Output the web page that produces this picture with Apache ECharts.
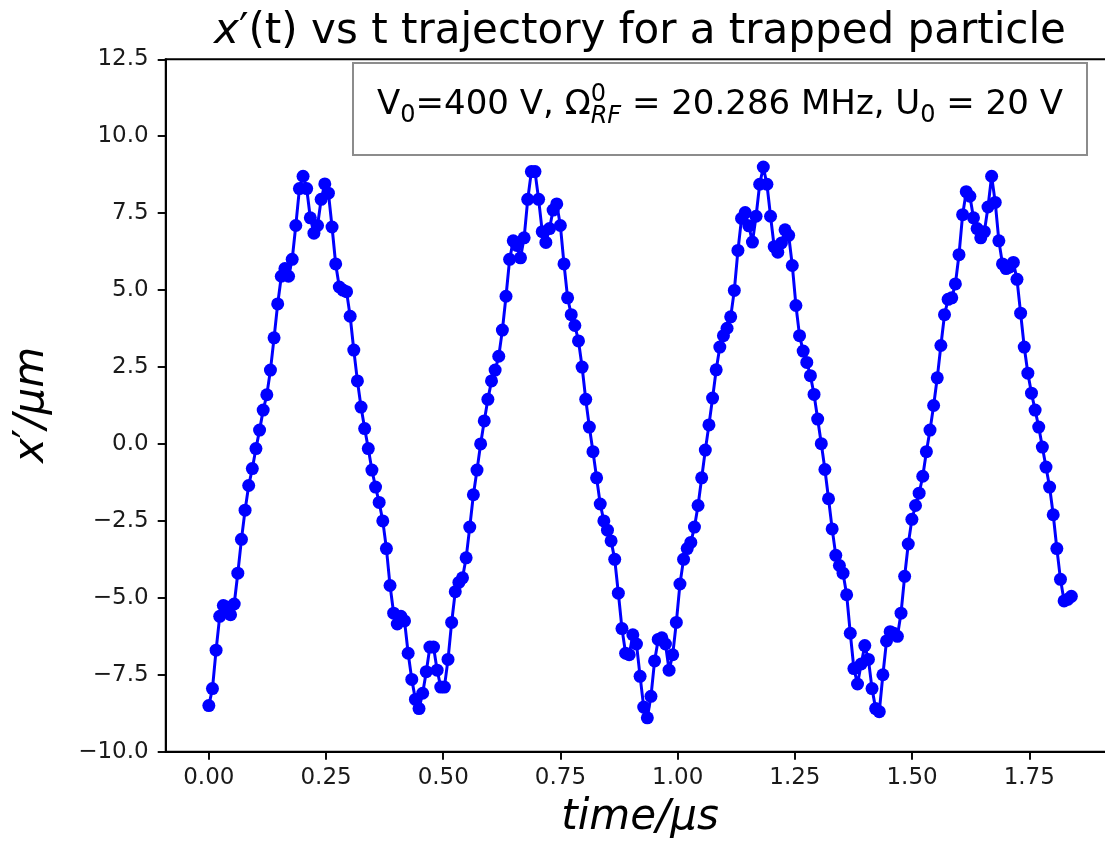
<!DOCTYPE html>
<html>
<head>
<meta charset="utf-8">
<title>x'(t) vs t trajectory for a trapped particle</title>
<script src="https://cdn.jsdelivr.net/npm/echarts@6.0.0/dist/echarts.min.js"></script>
<style>
  html, body { margin: 0; padding: 0; background: #ffffff; }
  #chart { width: 1105px; height: 852px; }
</style>
</head>
<body>
<div id="chart"></div>
<script>
const FONT = '"DejaVu Sans", sans-serif'
const BLUE = '#0000ff'
const INK = '#000000'

// sampling step of the trajectory (us)
const T_STEP = 0.00773

// x'(t) in um, one value per time step
const xPrime = [
  -8.5, -7.95, -6.7, -5.6, -5.25, -5.3, -5.55, -5.2, -4.2, -3.1, -2.15, -1.35, -0.8, -0.15,
  0.45, 1.1, 1.6, 2.4, 3.45, 4.55, 5.45, 5.7, 5.45, 6.0, 7.1, 8.3, 8.7,
  8.3, 7.35, 6.85, 7.1, 7.95, 8.45, 8.15, 7.05, 5.85, 5.1, 5.0, 4.95, 4.15, 3.05, 2.05, 1.2,
  0.5, -0.15, -0.85, -1.4, -1.9, -2.5, -3.4, -4.6,
  -5.5, -5.85, -5.6, -5.75, -6.8, -7.65, -8.3, -8.6, -8.1, -7.4, -6.6, -6.6, -7.35, -7.9, -7.9,
  -7.0, -5.8, -4.8,
  -4.5, -4.35, -3.7, -2.7, -1.65, -0.85, 0.0, 0.75, 1.45, 2.05, 2.4, 2.85, 3.7, 4.8, 6.0, 6.6,
  6.45, 6.05, 6.7, 7.95, 8.85, 8.85, 7.95, 6.9, 6.55, 7.0, 7.6, 7.8, 7.1, 5.85, 4.75, 4.2, 3.85,
  3.35, 2.5, 1.45, 0.55, -0.25, -1.1, -1.95, -2.5, -2.8, -3.15, -3.75, -4.85,
  -6.0, -6.8, -6.85, -6.2, -6.5, -7.55, -8.55, -8.9, -8.2, -7.05, -6.35, -6.3, -6.5, -7.35, -6.85,
  -5.8, -4.55, -3.75, -3.4, -3.2, -2.7, -2.0, -1.1, -0.2, 0.62,
  1.49, 2.41, 3.15, 3.52, 3.76, 4.13, 4.99, 6.29, 7.33, 7.52, 7.09, 6.56, 7.4, 8.44, 9.0, 8.44,
  7.4, 6.41, 6.23, 6.53, 6.96, 6.78, 5.8, 4.5, 3.52, 3.02, 2.65, 2.22, 1.61, 0.81, 0.01, -0.83,
  -1.78, -2.76, -3.62,
  -3.95, -4.2, -4.9, -6.15, -7.3, -7.8, -7.15, -6.55, -7.0, -7.95, -8.6, -8.7,
  -7.5, -6.4, -6.1, -6.15, -6.25, -5.5, -4.3, -3.25, -2.45, -2.0, -1.6, -1.05, -0.25, 0.45, 1.25,
  2.15, 3.2, 4.2, 4.7,
  4.75, 5.2, 6.15, 7.45, 8.2, 8.05, 7.35, 7.0, 6.7, 6.9, 7.7, 8.7, 7.85, 6.6, 5.85, 5.7, 5.75,
  5.9, 5.35, 4.25, 3.15, 2.3, 1.65, 1.1, 0.55, -0.1, -0.75, -1.4, -2.3, -3.4, -4.4, -5.1, -5.05,
  -4.95
]

const xTicks = [0, 0.25, 0.5, 0.75, 1.0, 1.25, 1.5, 1.75]
const X_MIN = -0.092
const X_MAX = 1.932
const Y_MIN = -10
const Y_MAX = 12.5
const Y_STEP = 2.5

const points = xPrime.map((v, i) => [i * T_STEP, v])

const minus = s => s.replace('-', '\u2212')

// text measuring for the hand-built legend line (sub/superscripts)
const measureCtx = document.createElement('canvas').getContext('2d')
function textWidth(text, size, italic) {
  measureCtx.font = (italic ? 'italic ' : 'normal ') + 'normal ' + size + 'px ' + FONT
  return measureCtx.measureText(text).width
}

// canvas "middle" sits ~0.35em above the alphabetic baseline for DejaVu Sans
const BASELINE_OFF = 0.35

function textEl(text, x, baseline, size, opts = {}) {
  return {
    type: 'text',
    x: x,
    y: baseline - BASELINE_OFF * size,
    z: 100,
    style: {
      text: text,
      fontSize: size,
      fontFamily: FONT,
      fontStyle: opts.italic ? 'italic' : 'normal',
      fill: INK,
      align: opts.align || 'left',
      verticalAlign: 'middle'
    }
  }
}

const LEG_SIZE = 34
const LEG_SMALL = 24
const legendRuns = [
  { text: 'V', size: LEG_SIZE },
  { text: '0', size: LEG_SMALL, shift: 7 },
  { text: '=400 V, \u03a9', size: LEG_SIZE },
  { stack: [
    { text: '0', size: LEG_SMALL, shift: -14 },
    { text: 'RF', size: LEG_SMALL, shift: 8, italic: true }
  ] },
  { text: ' = 20.286 MHz, U', size: LEG_SIZE },
  { text: '0', size: LEG_SMALL, shift: 7 },
  { text: ' = 20 V', size: LEG_SIZE }
]

function buildLegend(box, baseline) {
  const widthOf = r => r.stack
    ? Math.max(...r.stack.map(p => textWidth(p.text, p.size, p.italic)))
    : textWidth(r.text, r.size, r.italic)
  const total = legendRuns.reduce((s, r) => s + widthOf(r), 0)
  let x = box.x + box.width / 2 - total / 2
  const els = [{
    type: 'rect',
    z: 90,
    shape: { x: box.x, y: box.y, width: box.width, height: box.height },
    style: { fill: '#ffffff', stroke: '#8c8c8c', lineWidth: 2 }
  }]
  legendRuns.forEach(r => {
    const parts = r.stack || [r]
    parts.forEach(p => {
      els.push(textEl(p.text, x, baseline + (p.shift || 0), p.size, { italic: p.italic }))
    })
    x += widthOf(r)
  })
  return els
}

function richLabel(text, x, y, size, rotation) {
  return {
    type: 'text',
    x: x,
    y: y,
    rotation: rotation || 0,
    z: 100,
    style: {
      text: text,
      fontSize: size,
      fontFamily: FONT,
      fill: INK,
      align: 'center',
      verticalAlign: 'middle',
      rich: {
        m: { fontSize: size, fontFamily: FONT, fontStyle: 'italic', fill: INK }
      }
    }
  }
}

const TITLE_SIZE = 42
const LABEL_SIZE = 42

const chart = echarts.init(document.getElementById('chart'), null, { renderer: 'canvas' })

const option = {
  animation: false,
  backgroundColor: '#ffffff',
  grid: {
    left: 165.7,
    top: 59.3,
    right: -9.6,
    bottom: 100.3,
    show: true,
    borderColor: INK,
    borderWidth: 1.9,
    backgroundColor: 'transparent',
    containLabel: false,
    outerBoundsMode: 'none'
  },
  xAxis: {
    type: 'value',
    min: X_MIN,
    max: X_MAX,
    axisLine: { show: true, onZero: false, lineStyle: { color: INK, width: 1.9 } },
    axisTick: { show: true, length: 8, customValues: xTicks, lineStyle: { color: INK, width: 1.9 } },
    axisLabel: {
      customValues: xTicks,
      formatter: v => minus(v.toFixed(2)),
      margin: 15,
      fontSize: 23,
      fontFamily: FONT,
      color: '#1a1a1a'
    },
    splitLine: { show: false }
  },
  yAxis: {
    type: 'value',
    min: Y_MIN,
    max: Y_MAX,
    interval: Y_STEP,
    axisLine: { show: true, onZero: false, lineStyle: { color: INK, width: 1.9 } },
    axisTick: { show: true, length: 8, lineStyle: { color: INK, width: 1.9 } },
    axisLabel: {
      formatter: v => minus(v.toFixed(1)),
      margin: 17,
      fontSize: 23,
      fontFamily: FONT,
      color: '#1a1a1a'
    },
    splitLine: { show: false }
  },
  series: [
    {
      type: 'line',
      data: points,
      symbol: 'circle',
      symbolSize: 13,
      showAllSymbol: true,
      itemStyle: { color: BLUE, borderWidth: 0 },
      lineStyle: { color: BLUE, width: 3 },
      emphasis: { disabled: true }
    }
  ],
  graphic: [
    richLabel('{m|x}\u2032(t) vs t trajectory for a trapped particle', 640, 46.5 - BASELINE_OFF * TITLE_SIZE, TITLE_SIZE),
    richLabel('{m|time/\u03bcs}', 640, 833 - BASELINE_OFF * LABEL_SIZE, LABEL_SIZE),
    richLabel('{m|x}\u2032{m|/\u03bcm}', 47 - BASELINE_OFF * LABEL_SIZE, 405, LABEL_SIZE, Math.PI / 2),
    ...buildLegend({ x: 353, y: 63, width: 734, height: 92 }, 117)
  ]
}

chart.setOption(option)
</script>
</body>
</html>
